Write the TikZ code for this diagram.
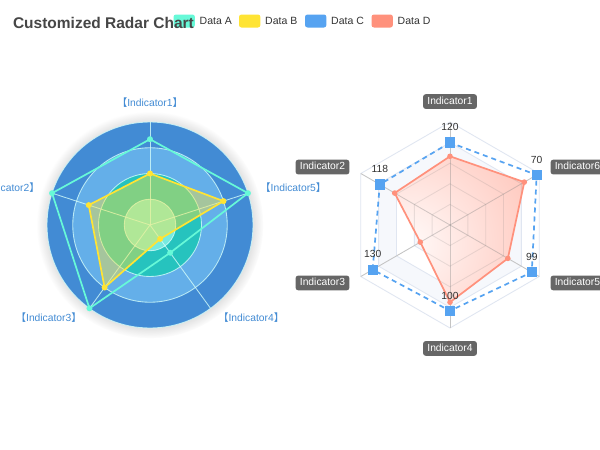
\documentclass[tikz,border=0pt]{standalone}
\usepackage{fontspec}
\setmainfont{Liberation Sans}
\newfontfamily\cjk{Noto Sans CJK SC}
\usepackage{xcolor}
\usepackage{tikz}
\usetikzlibrary{calc,shadows}

\definecolor{dataA}{HTML}{67F9D8}
\definecolor{dataB}{HTML}{FFE434}
\definecolor{dataC}{HTML}{56A3F1}
\definecolor{dataD}{HTML}{FF917C}
\definecolor{fillD}{RGB}{255,156,137}
\definecolor{ringA}{HTML}{77EADF}
\definecolor{ringB}{HTML}{26C3BE}
\definecolor{ringC}{HTML}{64AFE9}
\definecolor{ringD}{HTML}{428BD4}
\definecolor{splitL}{RGB}{211,253,250}
\definecolor{splitR}{HTML}{E0E6F1}
\definecolor{areaR}{RGB}{246,248,252}
\definecolor{axisR}{HTML}{C4C4C4}
\definecolor{titleC}{HTML}{464646}
\definecolor{textC}{HTML}{333333}
\definecolor{nameBox}{HTML}{666666}

\pgfdeclareradialshading{gradD}{\pgfpoint{0bp}{0bp}}{rgb(0bp)=(1,0.98,0.976); rgb(50bp)=(1,0.612,0.537)}

\begin{document}
\begin{tikzpicture}[x=1pt,y=1pt,yscale=-1,
  ringline/.style={draw=splitL, draw opacity=0.8, line width=0.86},
  gridline/.style={draw=splitR, line width=0.86},
  axisline/.style={draw=axisR, line width=0.86},
  lname/.style={text=ringD, font=\fontsize{10.3}{12}\selectfont, inner sep=0pt, text height=7.5pt, text depth=2pt},
  rname/.style={fill=nameBox, text=white, font=\fontsize{10.3}{12}\selectfont, rounded corners=2.6pt, inner xsep=4.3pt, inner ysep=2.6pt, text height=7.5pt, text depth=2pt},
  vlabel/.style={text=textC, font=\fontsize{10.3}{12}\selectfont, inner sep=0pt, anchor=south},
  legbox/.style={rounded corners=2.5pt, minimum width=21.4pt, minimum height=13pt, inner sep=0pt},
  legtext/.style={text=textC, font=\fontsize{10.5}{12}\selectfont, anchor=west, inner sep=0pt, text height=7.5pt, text depth=0pt},
  dot/.style={circle, inner sep=0pt, minimum size=6pt},
  sq/.style={fill=dataC, inner sep=0pt, minimum size=10.3pt}]
\useasboundingbox (0,0) rectangle (600,450);
\fill[white] (0,0) rectangle (600,450);
\clip (0,0) rectangle (600,450);

%Legend
\node[legbox, fill=dataA] (legA) at (184.2,21) {};
\node[legtext] (legAt) at (199.5,20.8) {Data A};
\node[legbox, fill=dataB] (legB) at (249.7,21) {};
\node[legtext] (legBt) at (265,20.8) {Data B};
\node[legbox, fill=dataC] (legC) at (315.7,21) {};
\node[legtext] (legCt) at (331,20.8) {Data C};
\node[legbox, fill=dataD] (legD) at (382.2,21) {};
\node[legtext] (legDt) at (397.5,20.8) {Data D};

%Left radar, circles
\begin{scope}[shift={(150,225)}]
\coordinate (oL) at (0,0);
%Shape: Circle
\fill[ringD, circular drop shadow={shadow xshift=0pt, shadow yshift=0pt, shadow scale=1.1, opacity=0.35}] (oL) circle[radius=103];
\fill[ringC] (oL) circle[radius=77.25];
\fill[ringB] (oL) circle[radius=51.5];
\fill[ringA] (oL) circle[radius=25.75];
\foreach \r in {25.75,51.5,77.25,103}
  \draw[ringline] (oL) circle[radius=\r];
%Straight Lines
\foreach \i in {1,...,5} {
  \coordinate (L\i) at ({-90-72*(\i-1)}:103);
  \draw[ringline] (oL) -- (L\i);
}
%Data A
\foreach \r [count=\i] in {85.8,103,103,34.3,103}
  \coordinate (A\i) at ({-90-72*(\i-1)}:\r);
\draw[dataA, line width=1.7, line join=round] (A1) -- (A2) -- (A3) -- (A4) -- (A5) -- cycle;
\foreach \i in {1,...,5}
  \node[dot, fill=dataA] (a\i) at (A\i) {};
%Data B
\foreach \r [count=\i] in {51.5,64.4,77.25,17.2,77.25}
  \coordinate (B\i) at ({-90-72*(\i-1)}:\r);
\fill[dataB, fill opacity=0.42] (B1) -- (B2) -- (B3) -- (B4) -- (B5) -- cycle;
\draw[dataB, line width=1.7, line join=round] (B1) -- (B2) -- (B3) -- (B4) -- (B5) -- cycle;
\foreach \i in {1,...,5}
  \node[dot, fill=dataB] (b\i) at (B\i) {};
% Text Node
\node[lname, anchor=south] (n1) at (-90:115.9) {{\cjk 【}Indicator1{\cjk 】}};
\node[lname, anchor=east] (n2) at (-162:115.9) {{\cjk 【}Indicator2{\cjk 】}};
\node[lname, anchor=east] (n3) at (-234:115.9) {{\cjk 【}Indicator3{\cjk 】}};
\node[lname, anchor=west] (n4) at (-306:115.9) {{\cjk 【}Indicator4{\cjk 】}};
\node[lname, anchor=west] (n5) at (-18:115.9) {{\cjk 【}Indicator5{\cjk 】}};
\end{scope}

%Right radar, hexagons
\begin{scope}[shift={(450,225)}]
\coordinate (oR) at (0,0);
%Shape: Polygon
\foreach \ri/\ro in {20.6/41.2,61.8/82.4}
  \fill[areaR, even odd rule] (-90:\ro) -- (-150:\ro) -- (-210:\ro) -- (-270:\ro) -- (-330:\ro) -- (-30:\ro) -- cycle
    (-90:\ri) -- (-150:\ri) -- (-210:\ri) -- (-270:\ri) -- (-330:\ri) -- (-30:\ri) -- cycle;
\foreach \r in {20.6,41.2,61.8,82.4,103}
  \draw[gridline] (-90:\r) -- (-150:\r) -- (-210:\r) -- (-270:\r) -- (-330:\r) -- (-30:\r) -- cycle;
%Straight Lines
\foreach \i in {1,...,6} {
  \coordinate (R\i) at ({-90-60*(\i-1)}:103);
  \draw[axisline] (oR) -- (R\i);
}
%Data C
\foreach \r [count=\i] in {82.4,81.05,89.3,85.8,94.4,100.1}
  \coordinate (C\i) at ({-90-60*(\i-1)}:\r);
\draw[dataC, line width=1.7, dash pattern=on 5pt off 4pt] (C1) -- (C2) -- (C3) -- (C4) -- (C5) -- (C6) -- cycle;
\foreach \i in {1,...,6}
  \node[sq] (c\i) at (C\i) {};
%Data D
\foreach \r [count=\i] in {68.7,63.9,34.3,77.25,66.8,85.8}
  \coordinate (D\i) at ({-90-60*(\i-1)}:\r);
\coordinate (gD) at (-42,18.7);
\begin{scope}
\clip (D1) -- (D2) -- (D3) -- (D4) -- (D5) -- (D6) -- cycle;
\fill[fillD] (-120,-120) rectangle (120,120);
\shade[shading=gradD] (gD) circle[radius=129];
\foreach \r in {20.6,41.2,61.8,82.4}
  \draw[gridline, draw=gray, draw opacity=0.18] (-90:\r) -- (-150:\r) -- (-210:\r) -- (-270:\r) -- (-330:\r) -- (-30:\r) -- cycle;
\foreach \i in {1,...,6}
  \draw[axisline, draw=gray, draw opacity=0.35] (oR) -- (R\i);
\end{scope}
\draw[dataD, line width=1.7, line join=round] (D1) -- (D2) -- (D3) -- (D4) -- (D5) -- (D6) -- cycle;
\foreach \i in {1,...,6}
  \node[dot, fill=dataD, minimum size=5.6pt] (d\i) at (D\i) {};
% Text Node
\foreach \v [count=\i] in {120,118,130,100,99,70}
  \node[vlabel] (v\i) at ($(C\i)+(0,-11.5)$) {\v};
\node[rname, anchor=south] (m1) at (-90:115.9) {Indicator1};
\node[rname, anchor=east] (m2) at (-150:115.9) {Indicator2};
\node[rname, anchor=east] (m3) at (-210:115.9) {Indicator3};
\node[rname, anchor=north] (m4) at (-270:115.9) {Indicator4};
\node[rname, anchor=west] (m5) at (-330:115.9) {Indicator5};
\node[rname, anchor=west] (m6) at (-30:115.9) {Indicator6};
\end{scope}

% Text Node
\node[anchor=base west, text=titleC, font=\bfseries\fontsize{15.5}{18}\selectfont, inner sep=0pt] (title) at (12.8,28.5) {Customized Radar Chart};
\end{tikzpicture}
\end{document}
